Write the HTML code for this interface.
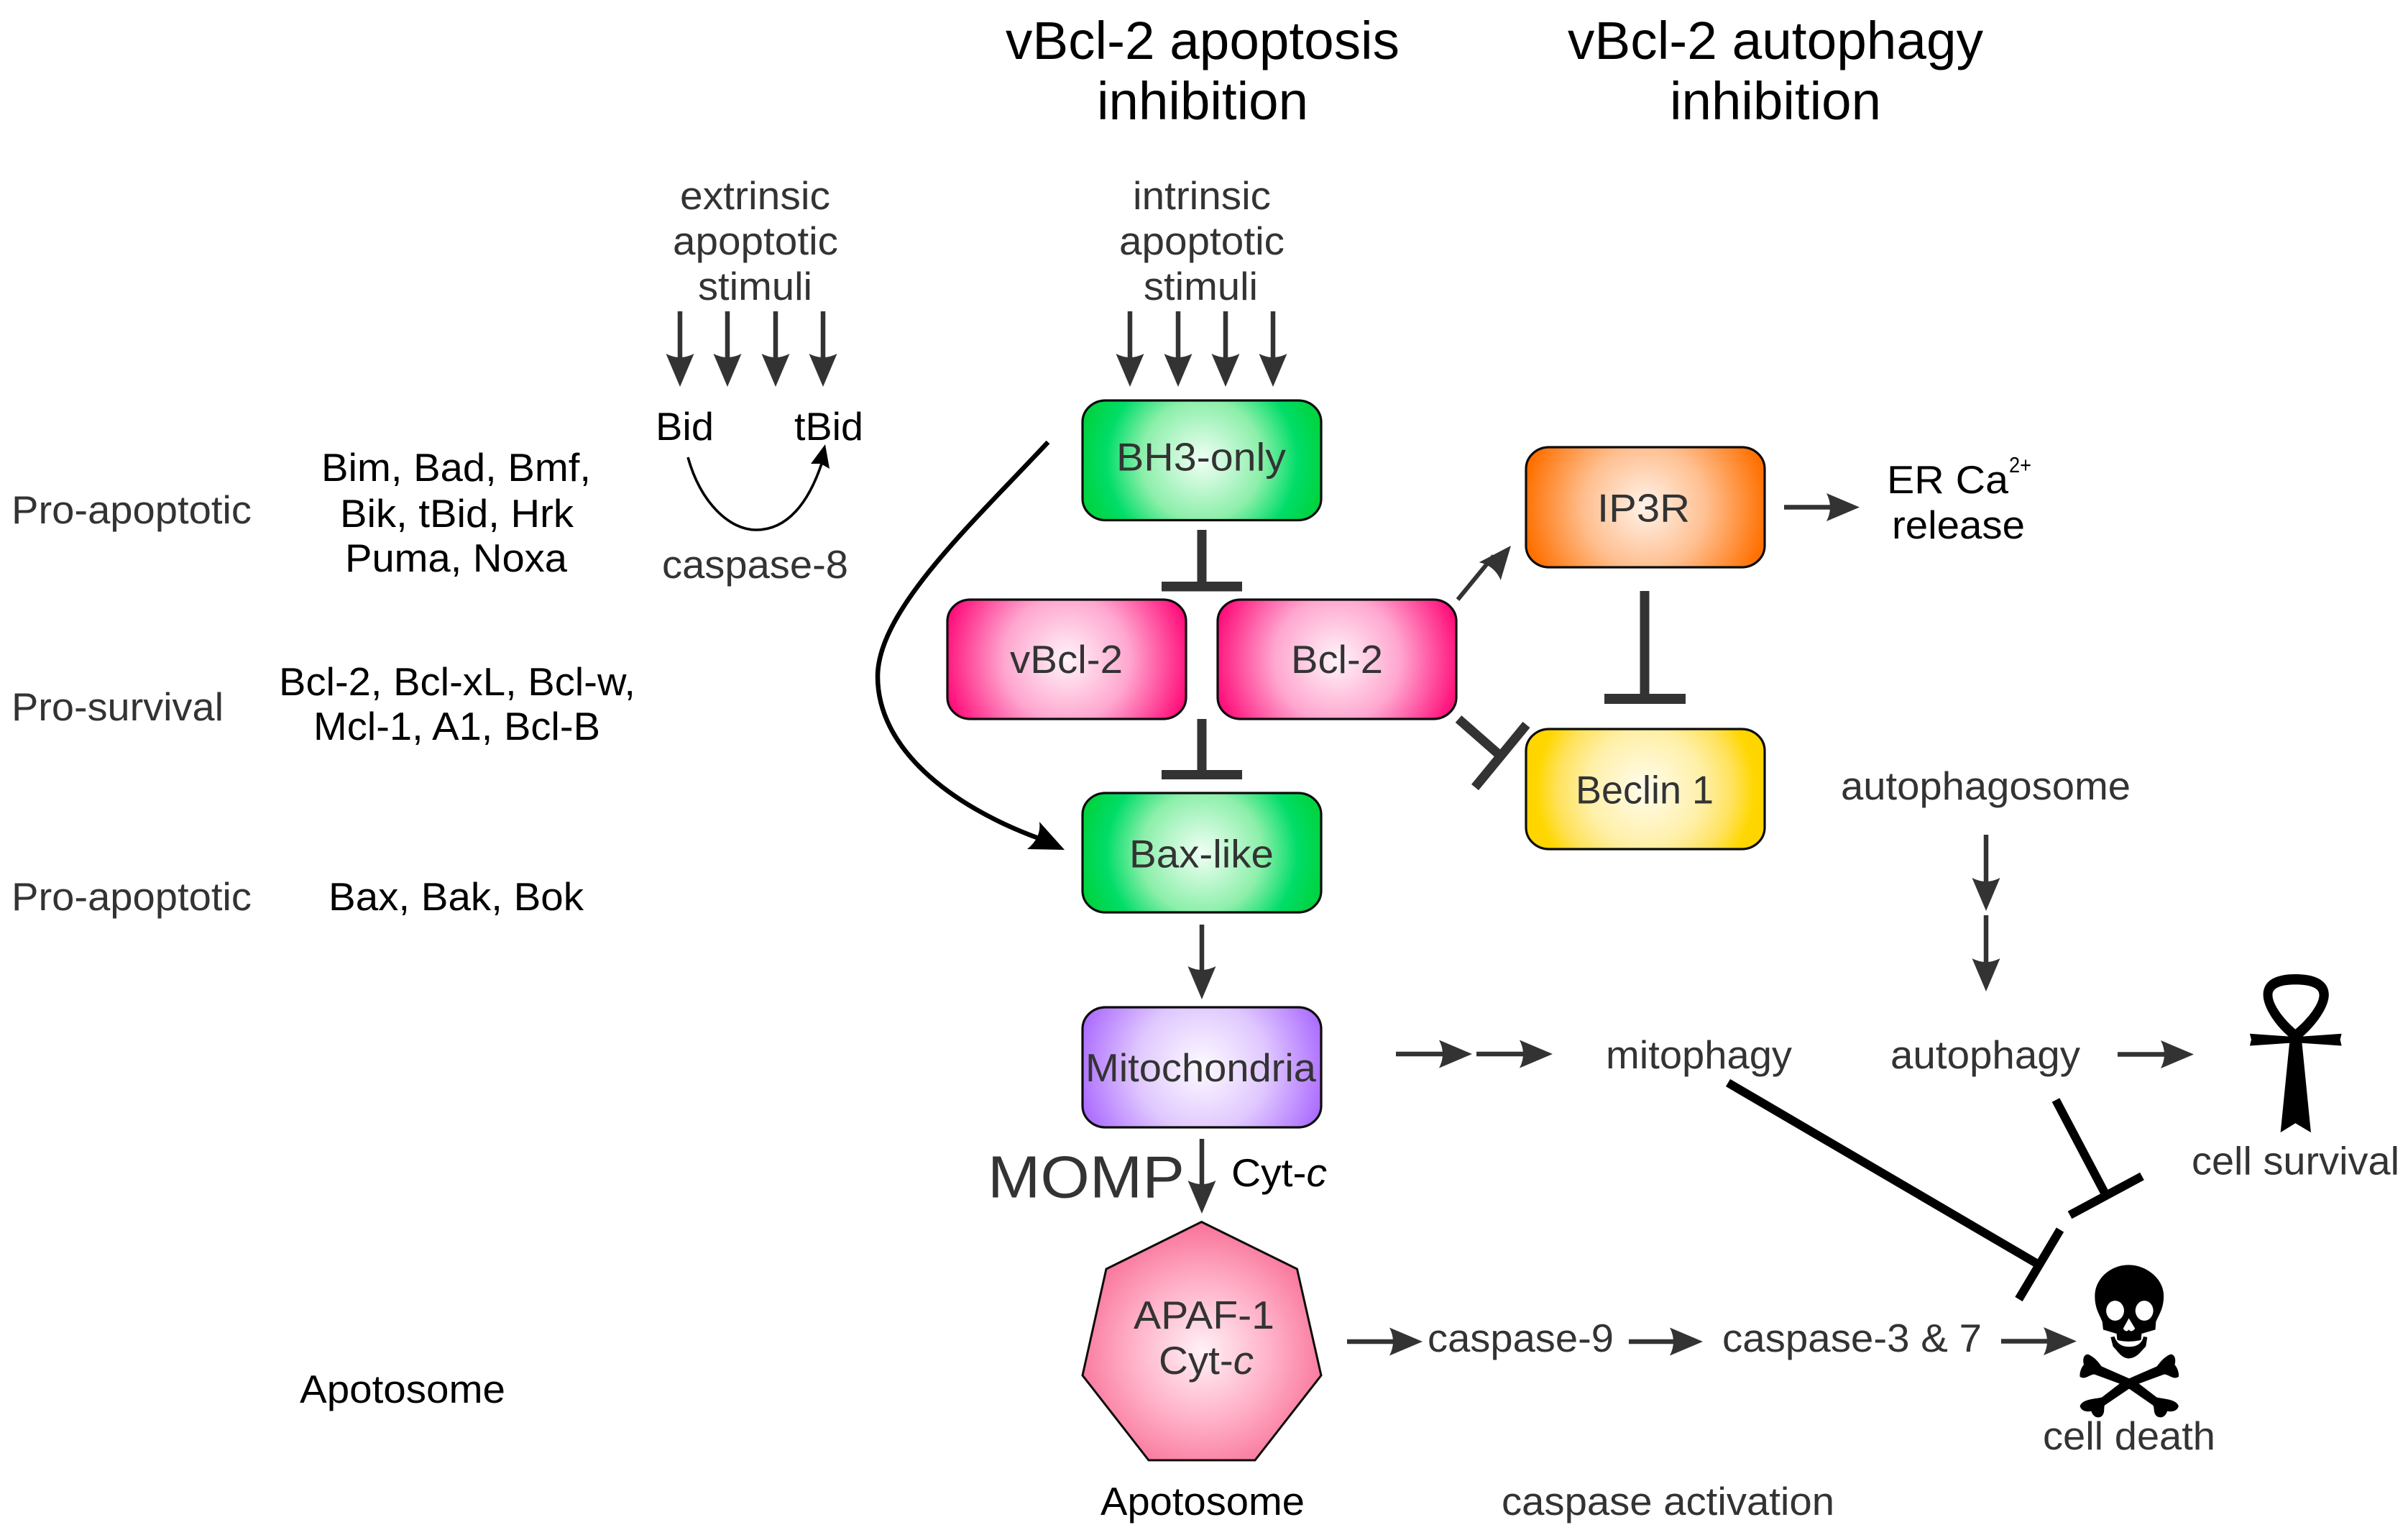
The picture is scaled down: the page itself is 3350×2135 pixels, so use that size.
<!DOCTYPE html>
<html lang="en">
<head>
<meta charset="utf-8">
<title>vBcl-2 apoptosis and autophagy inhibition</title>
<style>
html,body{margin:0;padding:0;background:#fff;width:3350px;height:2135px;overflow:hidden}
svg{display:block}
text{font-family:"Liberation Sans",Arial,sans-serif;font-size:55px;fill:#333}
.k{fill:#000}
.t{font-size:74.5px;fill:#000}
.box{stroke:#0c0c0c;stroke-width:3.2}
</style>
</head>
<body>
<svg xmlns="http://www.w3.org/2000/svg" width="3350" height="2135" viewBox="0 0 3350 2135">
<defs>
  <radialGradient id="gGreen" gradientUnits="userSpaceOnUse" cx="166" cy="83" r="175">
    <stop offset="0" stop-color="#f0fff5"/><stop offset=".48" stop-color="#8cefaa"/><stop offset=".76" stop-color="#00dd68"/><stop offset="1" stop-color="#00d23c"/>
  </radialGradient>
  <radialGradient id="gPink" gradientUnits="userSpaceOnUse" cx="166" cy="83" r="175">
    <stop offset="0" stop-color="#fff4f9"/><stop offset=".5" stop-color="#ffa6cf"/><stop offset="1" stop-color="#ff0a78"/>
  </radialGradient>
  <radialGradient id="gOrange" gradientUnits="userSpaceOnUse" cx="166" cy="83" r="170">
    <stop offset="0" stop-color="#fff3ea"/><stop offset=".5" stop-color="#ffbf90"/><stop offset="1" stop-color="#ff7000"/>
  </radialGradient>
  <radialGradient id="gYellow" gradientUnits="userSpaceOnUse" cx="166" cy="83" r="160">
    <stop offset="0" stop-color="#fffcee"/><stop offset=".5" stop-color="#fff0a8"/><stop offset=".76" stop-color="#ffe25c"/><stop offset=".95" stop-color="#ffd700"/><stop offset="1" stop-color="#ffd500"/>
  </radialGradient>
  <radialGradient id="gPurple" gradientUnits="userSpaceOnUse" cx="166" cy="83" r="180">
    <stop offset="0" stop-color="#fdfaff"/><stop offset=".5" stop-color="#e0c8ff"/><stop offset="1" stop-color="#a866ff"/>
  </radialGradient>
  <radialGradient id="gHept" gradientUnits="userSpaceOnUse" cx="1672" cy="1880" r="195">
    <stop offset="0" stop-color="#fff2f6"/><stop offset=".5" stop-color="#ffb0c8"/><stop offset="1" stop-color="#f7678f"/>
  </radialGradient>
  <path id="ah" d="M0,0 L-46,-19.5 Q-36,0 -46,19.5 Z" fill="#333"/>
</defs>

<!-- titles -->
<text class="t" x="1399" y="82" textLength="548" lengthAdjust="spacingAndGlyphs">vBcl-2 apoptosis</text>
<text class="t" x="1526" y="166" textLength="294" lengthAdjust="spacingAndGlyphs">inhibition</text>
<text class="t" x="2181" y="82" textLength="578" lengthAdjust="spacingAndGlyphs">vBcl-2 autophagy</text>
<text class="t" x="2323" y="166" textLength="294" lengthAdjust="spacingAndGlyphs">inhibition</text>

<!-- stimuli labels -->
<text x="946" y="291" textLength="209" lengthAdjust="spacingAndGlyphs">extrinsic</text>
<text x="936" y="354" textLength="230" lengthAdjust="spacingAndGlyphs">apoptotic</text>
<text x="971" y="417" textLength="159" lengthAdjust="spacingAndGlyphs">stimuli</text>
<text x="1576" y="291" textLength="192" lengthAdjust="spacingAndGlyphs">intrinsic</text>
<text x="1557" y="354" textLength="230" lengthAdjust="spacingAndGlyphs">apoptotic</text>
<text x="1591" y="417" textLength="159" lengthAdjust="spacingAndGlyphs">stimuli</text>

<!-- stimuli arrows -->
<g stroke="#333" stroke-width="6.5" fill="none">
  <path d="M946,433V498M1012,433V498M1079,433V498M1145,433V498"/>
  <path d="M1572,433V498M1639,433V498M1705,433V498M1771,433V498"/>
  <path d="M2763,1161V1228M2763,1273V1340"/>
  <path d="M1672,1286V1350M1672,1584V1650"/>
  <path d="M1942,1466H2012M2054,1466H2124M2946,1466.5H3015"/>
  <path d="M1874,1866H1945M2266,1866H2335M2784,1865.5H2853"/>
  <path d="M2482,705.500H2552"/>
  <path d="M2028,834L2078,773" stroke-width="6"/>
</g>
<g>
  <use href="#ah" transform="translate(946,538) rotate(90)"/>
  <use href="#ah" transform="translate(1012,538) rotate(90)"/>
  <use href="#ah" transform="translate(1079,538) rotate(90)"/>
  <use href="#ah" transform="translate(1145,538) rotate(90)"/>
  <use href="#ah" transform="translate(1572,538) rotate(90)"/>
  <use href="#ah" transform="translate(1639,538) rotate(90)"/>
  <use href="#ah" transform="translate(1705,538) rotate(90)"/>
  <use href="#ah" transform="translate(1771,538) rotate(90)"/>
  <use href="#ah" transform="translate(2763,1267) rotate(90)"/>
  <use href="#ah" transform="translate(2763,1379) rotate(90)"/>
  <use href="#ah" transform="translate(1672,1390) rotate(90)"/>
  <use href="#ah" transform="translate(1672,1688) rotate(90)"/>
  <use href="#ah" transform="translate(2048,1466)"/>
  <use href="#ah" transform="translate(2160,1466)"/>
  <use href="#ah" transform="translate(3052,1466.500)"/>
  <use href="#ah" transform="translate(1979,1866)"/>
  <use href="#ah" transform="translate(2369,1866)"/>
  <use href="#ah" transform="translate(2889,1865.500)"/>
  <use href="#ah" transform="translate(2587,705.500)"/>
  <use href="#ah" transform="translate(2102,759) rotate(-50.500)"/>
</g>

<!-- Bid -> tBid -->
<text class="k" x="912" y="612" textLength="81" lengthAdjust="spacingAndGlyphs">Bid</text>
<text class="k" x="1105" y="612" textLength="96" lengthAdjust="spacingAndGlyphs">tBid</text>
<path d="M957,636 C975,700 1015,737 1052,737 C1095,737 1125,700 1144,642" fill="none" stroke="#000" stroke-width="3.6"/>
<path d="M1148,618 L1128,645 L1142,645 L1154,652 Z" fill="#000"/>
<text x="921" y="804" textLength="259" lengthAdjust="spacingAndGlyphs">caspase-8</text>

<!-- left labels -->
<text x="16" y="728" textLength="334" lengthAdjust="spacingAndGlyphs">Pro-apoptotic</text>
<text x="16" y="1002" textLength="295" lengthAdjust="spacingAndGlyphs">Pro-survival</text>
<text x="16" y="1266" textLength="334" lengthAdjust="spacingAndGlyphs">Pro-apoptotic</text>
<text class="k" x="447" y="669" textLength="375" lengthAdjust="spacingAndGlyphs">Bim, Bad, Bmf,</text>
<text class="k" x="473" y="733" textLength="325" lengthAdjust="spacingAndGlyphs">Bik, tBid, Hrk</text>
<text class="k" x="480" y="795" textLength="309" lengthAdjust="spacingAndGlyphs">Puma, Noxa</text>
<text class="k" x="388" y="967" textLength="496" lengthAdjust="spacingAndGlyphs">Bcl-2, Bcl-xL, Bcl-w,</text>
<text class="k" x="436" y="1029" textLength="399" lengthAdjust="spacingAndGlyphs">Mcl-1, A1, Bcl-B</text>
<text class="k" x="457" y="1266" textLength="355" lengthAdjust="spacingAndGlyphs">Bax, Bak, Bok</text>
<text class="k" x="417" y="1951" textLength="286" lengthAdjust="spacingAndGlyphs">Apotosome</text>

<!-- curved arrow -->
<path d="M1458,615 C1350,730 1221,850 1221,941 C1221,1040 1320,1120 1445,1166" fill="none" stroke="#000" stroke-width="6.5"/>
<path d="M1481,1182 L1446,1143 Q1449,1165 1429,1181 Z" fill="#000"/>

<!-- boxes -->
<g transform="translate(1506,557)"><rect class="box" width="332" height="166.500" rx="32" ry="30" fill="url(#gGreen)"/></g>
<g transform="translate(1318,834)"><rect class="box" width="332" height="166" rx="32" ry="30" fill="url(#gPink)"/></g>
<g transform="translate(1694,834)"><rect class="box" width="332" height="166" rx="32" ry="30" fill="url(#gPink)"/></g>
<g transform="translate(1506,1103)"><rect class="box" width="332" height="166" rx="32" ry="30" fill="url(#gGreen)"/></g>
<g transform="translate(2123,622)"><rect class="box" width="332" height="167" rx="32" ry="30" fill="url(#gOrange)"/></g>
<g transform="translate(2123,1014)"><rect class="box" width="332" height="167" rx="32" ry="30" fill="url(#gYellow)"/></g>
<g transform="translate(1506,1401)"><rect class="box" width="332" height="167" rx="32" ry="30" fill="url(#gPurple)"/></g>
<polygon points="1671.500,1699.500 1804.500,1765 1838,1913 1746,2031 1598,2031 1506,1913 1539,1765" fill="url(#gHept)" stroke="#0c0c0c" stroke-width="3"/>

<!-- box labels -->
<text x="1553" y="654.500" textLength="236" lengthAdjust="spacingAndGlyphs">BH3-only</text>
<text x="1405" y="936" textLength="157" lengthAdjust="spacingAndGlyphs">vBcl-2</text>
<text x="1796" y="936" textLength="128" lengthAdjust="spacingAndGlyphs">Bcl-2</text>
<text x="1571" y="1206.500" textLength="201" lengthAdjust="spacingAndGlyphs">Bax-like</text>
<text x="2222" y="725.500" textLength="129" lengthAdjust="spacingAndGlyphs">IP3R</text>
<text x="2192" y="1117.500" textLength="192" lengthAdjust="spacingAndGlyphs">Beclin 1</text>
<text x="1510" y="1504" textLength="321" lengthAdjust="spacingAndGlyphs">Mitochondria</text>
<text x="1577" y="1848" textLength="196" lengthAdjust="spacingAndGlyphs">APAF-1</text>
<text x="1612" y="1911" textLength="132" lengthAdjust="spacingAndGlyphs">Cyt-<tspan font-style="italic">c</tspan></text>
<text class="k" x="1531" y="2107" textLength="284" lengthAdjust="spacingAndGlyphs">Apotosome</text>
<text x="1374" y="1665.500" style="font-size:83px" textLength="274" lengthAdjust="spacingAndGlyphs">MOMP</text>
<text class="k" x="1713" y="1650" textLength="133" lengthAdjust="spacingAndGlyphs">Cyt-<tspan font-style="italic">c</tspan></text>

<text class="k" x="2625" y="686" textLength="169" lengthAdjust="spacingAndGlyphs">ER Ca</text>
<text class="k" x="2795" y="657" style="font-size:31px" textLength="31" lengthAdjust="spacingAndGlyphs">2+</text>
<text class="k" x="2632" y="749" textLength="185" lengthAdjust="spacingAndGlyphs">release</text>
<text x="2561" y="1112" textLength="403" lengthAdjust="spacingAndGlyphs">autophagosome</text>
<text x="2234" y="1486" textLength="259" lengthAdjust="spacingAndGlyphs">mitophagy</text>
<text x="2630" y="1486" textLength="264" lengthAdjust="spacingAndGlyphs">autophagy</text>
<text x="1986" y="1880" textLength="259" lengthAdjust="spacingAndGlyphs">caspase-9</text>
<text x="2396" y="1880" textLength="361" lengthAdjust="spacingAndGlyphs">caspase-3 &amp; 7</text>
<text x="2089" y="2107" textLength="463" lengthAdjust="spacingAndGlyphs">caspase activation</text>
<text x="3049" y="1633.500" textLength="289" lengthAdjust="spacingAndGlyphs">cell survival</text>
<text x="2842" y="2016" textLength="240" lengthAdjust="spacingAndGlyphs">cell death</text>

<!-- inhibition bars -->
<g fill="#333">
  <rect x="1665.500" y="737" width="13" height="75"/><rect x="1616" y="809" width="112" height="13.500"/>
  <rect x="1665.500" y="1000" width="13" height="74"/><rect x="1616" y="1071" width="112" height="13"/>
  <rect x="2281.500" y="822" width="13" height="146"/><rect x="2232" y="965" width="113" height="14"/>
</g>
<g stroke="#333" stroke-width="13" fill="none">
  <path d="M2029,1000 L2086,1050"/>
  <path d="M2123.500,1008 L2052,1095"/>
</g>
<g stroke="#000" stroke-width="12" fill="none">
  <path d="M2860,1530 L2928,1659"/>
  <path d="M2879.500,1690 L2980,1636"/>
  <path d="M2404,1506 L2833,1757"/>
  <path d="M2866,1710.500 L2808.500,1807"/>
</g>

<!-- ankh + skull, drawn in a local coordinate system -->
<g transform="translate(2700,1300) scale(.4146,.4785)" fill="#000">
  <path fill-rule="evenodd" d="M1190,115 C1260,115 1302,135 1302,175 C1302,215 1250,270 1212,298 L1170,298 C1130,270 1082,215 1082,175 C1082,135 1120,115 1190,115 Z M1190,145 C1240,145 1270,155 1270,175 C1270,205 1225,250 1190,275 C1155,250 1113,205 1113,175 C1113,155 1140,145 1190,145 Z"/>
  <path d="M1037,288 L1170,296 L1212,296 L1345,288 L1340,305 L1345,323 L1212,315 L1242,575 L1190,548 L1140,575 L1170,315 L1037,323 L1042,305 Z"/>
  <path d="M630,960 C570,960 517,1000 517,1050 C517,1085 530,1100 542,1125 L545,1148 L590,1160 L592,1178 C610,1184 650,1184 672,1178 L674,1160 L720,1148 L722,1125 C735,1100 748,1085 748,1050 C748,1000 690,960 630,960 Z"/>
  <path d="M570,1170 L583,1168 C590,1190 610,1198 632,1198 C655,1198 675,1190 680,1168 L693,1170 L688,1197 C670,1212 660,1230 630,1232 C605,1230 595,1212 578,1197 Z"/>
  <ellipse cx="585" cy="1093" rx="30" ry="29" fill="#fff"/>
  <ellipse cx="683" cy="1093" rx="30" ry="29" fill="#fff"/>
  <path d="M631,1115 L612,1145 Q622,1158 631,1148 Q640,1158 652,1145 Z" fill="#fff"/>
  <path d="M632,1290 L725,1255 C735,1245 745,1230 770,1220 C785,1218 790,1235 785,1250 C795,1260 800,1275 798,1285 C780,1295 770,1280 750,1278 L665,1305 L725,1345 C750,1350 790,1350 798,1370 C795,1385 775,1388 760,1385 C755,1400 740,1408 725,1400 C712,1390 718,1375 712,1368 L632,1320 L550,1368 C546,1375 552,1390 540,1400 C525,1408 510,1400 505,1385 C490,1388 470,1385 467,1370 C475,1350 515,1350 540,1345 L600,1305 L515,1278 C495,1280 485,1295 467,1285 C465,1275 470,1260 480,1250 C475,1235 480,1218 495,1220 C520,1230 530,1245 540,1255 Z"/>
</g>
</svg>
</body>
</html>
